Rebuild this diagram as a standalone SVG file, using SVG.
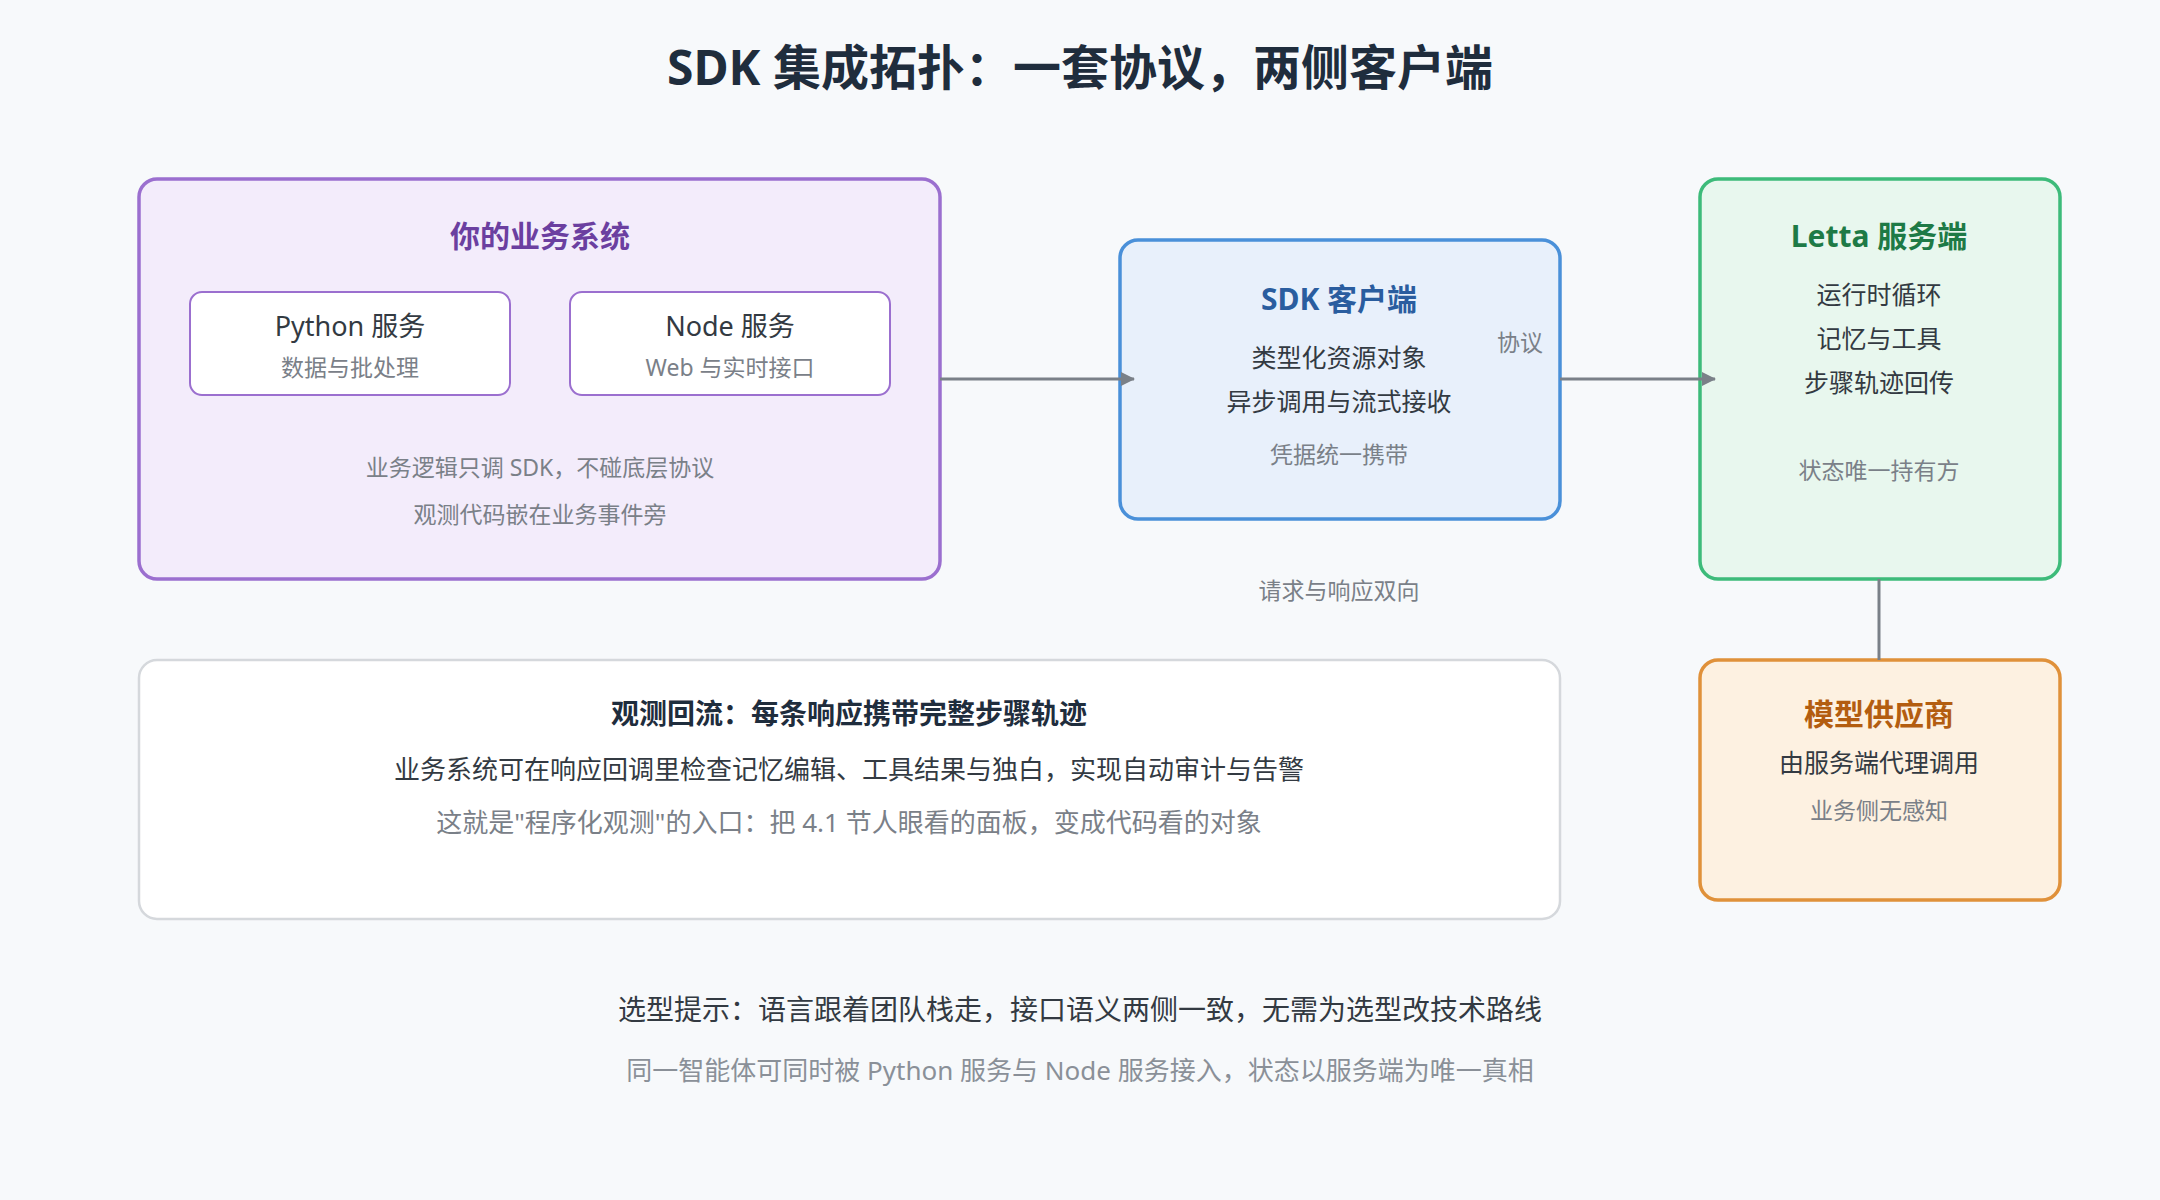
<svg xmlns="http://www.w3.org/2000/svg" width="2160" height="1200" viewBox="0 0 2160 1200">
<defs>
<marker id="ah" markerWidth="14" markerHeight="14" refX="13" refY="7" orient="auto" markerUnits="userSpaceOnUse"><path d="M0,0 L14,7 L0,14 z" fill="#7a8088"/></marker>
<style>
text{font-family:"Noto Sans","Noto Sans CJK SC",sans-serif;text-anchor:middle;dominant-baseline:middle}
.t{font-weight:bold;font-size:30px}
.g{fill:#7a8088;font-size:23px}
.d{fill:#333a42;font-size:25px}
.c{stroke:#7a8088;stroke-width:3;fill:none}
</style>
</defs>
<rect width="2160" height="1200" fill="#f7f9fb"/>
<text x="1080" y="72" font-size="48" font-weight="bold" fill="#1f2d3d">SDK 集成拓扑：一套协议，两侧客户端</text>
<g id="business">
<rect x="139" y="179" width="801" height="400" rx="18" fill="#f3ecfb" stroke="#9b6fcf" stroke-width="3.5"/>
<text class="t" x="540" y="239" fill="#6b3fa0">你的业务系统</text>
<text class="g" x="540" y="470">业务逻辑只调 SDK，不碰底层协议</text>
<text class="g" x="540" y="517">观测代码嵌在业务事件旁</text>
</g>
<g id="python">
<rect x="190" y="292" width="320" height="103" rx="12" fill="#fff" stroke="#9b6fcf" stroke-width="2"/>
<text x="350" y="329" font-size="27" fill="#333a42">Python 服务</text>
<text class="g" x="350" y="370">数据与批处理</text>
</g>
<g id="node">
<rect x="570" y="292" width="320" height="103" rx="12" fill="#fff" stroke="#9b6fcf" stroke-width="2"/>
<text x="730" y="329" font-size="27" fill="#333a42">Node 服务</text>
<text class="g" x="730" y="370">Web 与实时接口</text>
</g>
<g id="sdk">
<rect x="1120" y="240" width="440" height="279" rx="18" fill="#e8f0fb" stroke="#4a90d9" stroke-width="3.5"/>
<text class="t" x="1339" y="302" fill="#2a5d9f">SDK 客户端</text>
<text class="d" x="1339" y="360">类型化资源对象</text>
<text class="d" x="1339" y="404">异步调用与流式接收</text>
<text class="g" x="1339" y="457">凭据统一携带</text>
</g>
<g id="letta">
<rect x="1700" y="179" width="360" height="400" rx="18" fill="#e8f7ee" stroke="#3dbb7a" stroke-width="3.5"/>
<text class="t" x="1879" y="239" fill="#1e7a46">Letta 服务端</text>
<text class="d" x="1879" y="297">运行时循环</text>
<text class="d" x="1879" y="341">记忆与工具</text>
<text class="d" x="1879" y="385">步骤轨迹回传</text>
<text class="g" x="1879" y="473">状态唯一持有方</text>
</g>
<g id="model">
<rect x="1700" y="660" width="360" height="240" rx="18" fill="#fdf1e1" stroke="#e0913a" stroke-width="3.5"/>
<text class="t" x="1879" y="717" fill="#b35d10">模型供应商</text>
<text class="d" x="1879" y="765">由服务端代理调用</text>
<text class="g" x="1879" y="813">业务侧无感知</text>
</g>
<g id="observe">
<rect x="139" y="660" width="1421" height="259" rx="18" fill="#fff" stroke="#d5d8dc" stroke-width="2.5"/>
<text x="849" y="716" font-size="28" font-weight="bold" fill="#1f2d3d">观测回流：每条响应携带完整步骤轨迹</text>
<text class="d" x="849" y="772" style="font-size:26px">业务系统可在响应回调里检查记忆编辑、工具结果与独白，实现自动审计与告警</text>
<text class="g" x="849" y="825" style="font-size:26px">这就是"程序化观测"的入口：把 4.1 节人眼看的面板，变成代码看的对象</text>
</g>
<g id="connectors">
<line class="c" x1="940" y1="379" x2="1134" y2="379" marker-end="url(#ah)"/>
<line class="c" x1="1560" y1="379" x2="1715" y2="379" marker-end="url(#ah)"/>
<line class="c" x1="1879" y1="579" x2="1879" y2="660"/>
<text class="g" x="1520" y="345">协议</text>
<text class="g" x="1339" y="593">请求与响应双向</text>
</g>
<g id="footer">
<text x="1080" y="1012" font-size="28" fill="#333a42">选型提示：语言跟着团队栈走，接口语义两侧一致，无需为选型改技术路线</text>
<text x="1080" y="1073" font-size="26" fill="#8a9098">同一智能体可同时被 Python 服务与 Node 服务接入，状态以服务端为唯一真相</text>
</g>
</svg>
